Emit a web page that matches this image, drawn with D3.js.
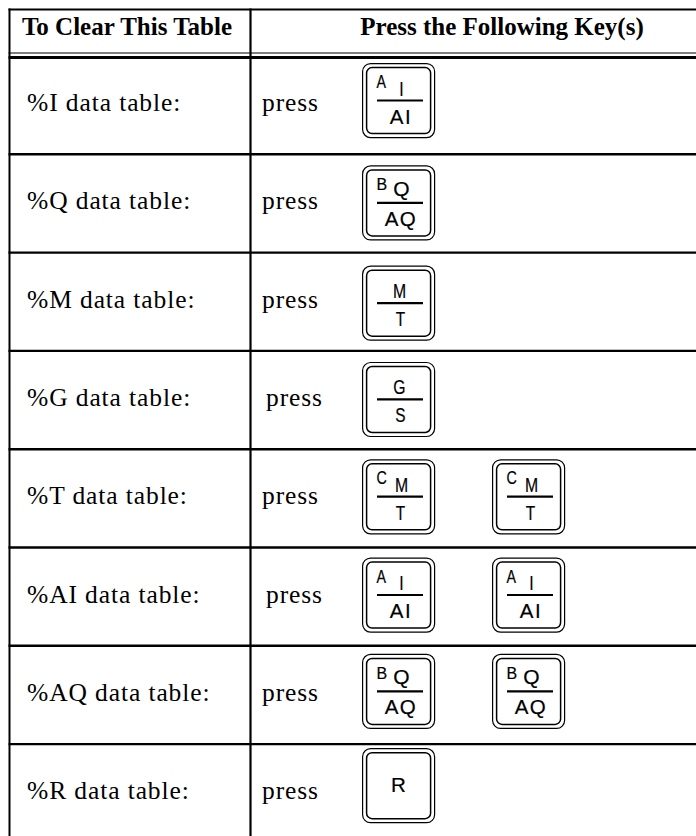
<!DOCTYPE html>
<html><head><meta charset="utf-8">
<script src="https://cdn.jsdelivr.net/npm/d3@7"></script>
<style>body{margin:0;background:#fff}</style>
</head><body><svg id="c" width="696" height="836"></svg>
<script>
// ---- data ----
const headers = ["To Clear This Table", "Press the Following Key(s)"];
const tableNames = ["%I", "%Q", "%M", "%G", "%T", "%AI", "%AQ", "%R"];
const labelSuffix = " data table:";
const actionWord = "press";
const keyNames = ["AI", "BQ", "MT", "GS", "CMT", "R"];
const keyShiftLegend = ["A", "B", "", "", "C", ""];
const keyMainLegend = ["I", "Q", "M", "G", "M", "R"];
const keyLowerLegend = ["AI", "AQ", "T", "S", "T", ""];
const rowKeys = [["AI"], ["BQ"], ["MT"], ["GS"], ["CMT", "CMT"], ["AI", "AI"], ["BQ", "BQ"], ["R"]];

// ---- layout / style ----
const W = 696, H = 836;
const svg = d3.select("#c");
svg.append("rect").attr("width", W).attr("height", H).attr("fill", "#fff");

const y = d3.scaleBand().domain(tableNames).range([56, 842.4]);
const slotX = d3.scaleLinear().domain([0, 1]).range([362, 492]);
const colX = d3.scaleOrdinal().domain(headers).range([127, 502]);
const keyNudge = [7, 11, 13, 11, 10, 10, 8, 4];
const pressIndent = [0, 0, 0, 4, 0, 4, 0, 0];
const condensed = new Set(["A", "M", "T", "G", "S", "C", "I"]);
const serif = "'Liberation Serif','Times New Roman',serif";
const sans = "'Liberation Sans',Arial,Helvetica,sans-serif";

// table rules
const left = 9.5, divider = 250.5;
svg.append("line").attr("x1", 8.5).attr("x2", W).attr("y1", 9.5).attr("y2", 9.5)
  .attr("stroke", "#000").attr("stroke-width", 2);
svg.append("line").attr("x1", left).attr("x2", left).attr("y1", 8.5).attr("y2", H)
  .attr("stroke", "#000").attr("stroke-width", 2);
svg.append("line").attr("x1", divider).attr("x2", divider).attr("y1", 8.5).attr("y2", H)
  .attr("stroke", "#000").attr("stroke-width", 2.2);
svg.append("line").attr("x1", 8.5).attr("x2", W).attr("y1", 53).attr("y2", 53)
  .attr("stroke", "#000").attr("stroke-width", 1.2);
svg.append("line").attr("x1", 8.5).attr("x2", W).attr("y1", 57.5).attr("y2", 57.5)
  .attr("stroke", "#000").attr("stroke-width", 3);
svg.selectAll("line.row").data(tableNames.slice(1)).join("line").attr("class", "row")
  .attr("x1", 8.5).attr("x2", W)
  .attr("y1", d => y(d)).attr("y2", d => y(d))
  .attr("stroke", "#000").attr("stroke-width", 2.4);

// headers
svg.selectAll("text.hdr").data(headers).join("text").attr("class", "hdr")
  .attr("x", d => colX(d)).attr("y", 35)
  .attr("text-anchor", "middle")
  .attr("font-family", serif).attr("font-weight", "bold").attr("font-size", 25)
  .text(d => d);

// row labels
svg.selectAll("text.lbl").data(tableNames).join("text").attr("class", "lbl")
  .attr("x", 27).attr("y", d => y(d) + 55)
  .attr("font-family", serif).attr("font-size", 25.5).attr("letter-spacing", 0.9)
  .text(d => d + labelSuffix);

svg.selectAll("text.press").data(tableNames).join("text").attr("class", "press")
  .attr("x", (d, i) => 262 + pressIndent[i]).attr("y", d => y(d) + 55)
  .attr("font-family", serif).attr("font-size", 25.5).attr("letter-spacing", 0.9)
  .text(actionWord);

// keys
function legend(g, txt, x, yy, size, anchor, ls) {
  if (!txt) return;
  const narrow = condensed.has(txt);
  g.append("text")
    .attr("transform", `translate(${x},${yy}) scale(${narrow ? 0.75 : 1},1)`)
    .attr("text-anchor", anchor)
    .attr("font-family", sans).attr("font-size", size)
    .attr("letter-spacing", ls || 0)
    .attr("stroke", "#000").attr("stroke-width", 0.2)
    .text(txt);
}

tableNames.forEach((name, r) => {
  rowKeys[r].forEach((kid, s) => {
    const k = keyNames.indexOf(kid);
    const kx = slotX(s), ky = y(name) + keyNudge[r];
    const g = svg.append("g").attr("transform", `translate(${kx},${ky})`);
    g.append("rect").attr("x", 0.6).attr("y", 0.6).attr("width", 72).attr("height", 74)
      .attr("rx", 8).attr("fill", "none").attr("stroke", "#000").attr("stroke-width", 1.2);
    g.append("rect").attr("x", 4.6).attr("y", 4.6).attr("width", 64).attr("height", 66)
      .attr("rx", 5.5).attr("fill", "none").attr("stroke", "#000").attr("stroke-width", 1.5);
    const shift = keyShiftLegend[k];
    if (keyLowerLegend[k]) {
      g.append("line").attr("x1", 15).attr("x2", 61).attr("y1", 37.5).attr("y2", 37.5)
        .attr("stroke", "#000").attr("stroke-width", 2.2);
      legend(g, shift, 14.5, 25, condensed.has(shift) ? 19 : 16, "start");
      const main = keyMainLegend[k];
      legend(g, main, shift ? 39.5 : 37.5, condensed.has(main) ? 32.5 : 30.5, 21, "middle");
      legend(g, keyLowerLegend[k], 39, 60.5, 20.5, "middle", 1.5);
    } else {
      legend(g, keyMainLegend[k], 36.5, 44, 20.5, "middle");
    }
  });
});
</script>
</body></html>
